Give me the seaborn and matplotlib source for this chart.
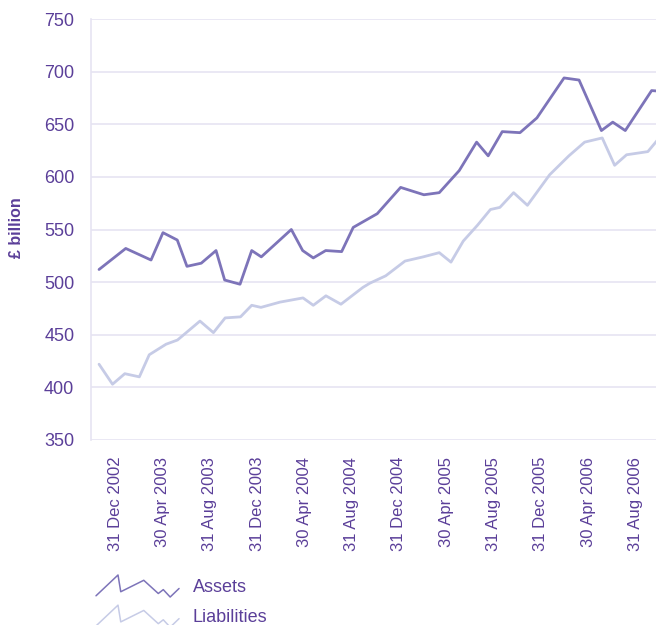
import numpy as np
import pandas as pd
import matplotlib
matplotlib.use("Agg")
import matplotlib.pyplot as plt
from matplotlib.lines import Line2D
from matplotlib.legend_handler import HandlerBase
import seaborn as sns

# x positions are in months, counted from the start of Dec 2002
tick_labels = ["31 Dec 2002", "30 Apr 2003", "31 Aug 2003", "31 Dec 2003",
               "30 Apr 2004", "31 Aug 2004", "31 Dec 2004", "30 Apr 2005",
               "31 Aug 2005", "31 Dec 2005", "30 Apr 2006", "31 Aug 2006"]

assets_month = [0.62, 2.88, 5.02, 6.03, 7.24, 8.06, 9.27, 10.52, 11.25, 12.55,
                13.54, 14.35, 16.89, 17.85, 18.75, 19.80, 21.15, 22.13, 24.16,
                26.14, 28.11, 29.41, 31.10, 32.57, 33.55, 34.74, 36.24, 37.67,
                39.97, 41.24, 43.13, 44.09, 45.15, 47.38, 48.50]
assets_bn = [512, 532, 521, 547, 540, 515, 518, 530, 502, 498,
             530, 524, 550, 530, 523, 530, 529, 552, 565,
             590, 583, 585, 606, 633, 620, 643, 642, 656,
             694, 692, 644, 652, 644, 682, 681]

liab_month = [0.62, 1.76, 2.80, 4.03, 4.87, 6.29, 7.26, 9.16, 10.30, 11.29,
              12.59, 13.54, 14.32, 15.93, 17.88, 18.75, 19.82, 21.09, 22.95,
              23.54, 24.88, 26.51, 28.05, 29.41, 30.40, 31.44, 32.64, 33.74,
              34.54, 35.70, 36.87, 38.75, 40.38, 41.71, 43.20, 44.25, 45.26,
              47.06, 48.25]
liab_bn = [422, 403, 413, 410, 431, 441, 445, 463, 452, 466,
           467, 478, 476, 481, 485, 478, 487, 479, 495,
           499, 506, 520, 524, 528, 519, 539, 554, 569,
           571, 585, 573, 602, 620, 633, 637, 611, 621,
           624, 640]

TEXT = "#5b3f99"
GRID = "#e6e4f2"
ASSETS_C = "#7d74b9"
LIAB_C = "#c6cbe6"

df = pd.concat([
    pd.DataFrame({"month": assets_month, "value": assets_bn, "series": "Assets"}),
    pd.DataFrame({"month": liab_month, "value": liab_bn, "series": "Liabilities"}),
])

sns.set_style("white")
plt.rcParams["font.family"] = ["Liberation Sans", "DejaVu Sans"]

fig = plt.figure(figsize=(6.56, 6.25), dpi=100)
ax = fig.add_axes([91 / 656, 1 - 440 / 625, 565 / 656, 421 / 625])

sns.lineplot(data=df, x="month", y="value", hue="series", sort=False,
             estimator=None, palette={"Assets": ASSETS_C, "Liabilities": LIAB_C},
             linewidth=2.0, legend=False, ax=ax)

ax.set_xlim(-0.06, 47.75)
ax.set_ylim(350, 750)
ax.set_yticks(np.arange(350, 751, 50))
ax.grid(axis="y", color=GRID, linewidth=1.2)
ax.set_axisbelow(True)

# tick marks at group boundaries, labels centred in each 4-month group
ax.set_xticks(np.arange(0, 48, 4))
ax.set_xticklabels([])
ax.set_xticks(np.arange(2, 48, 4), minor=True)
ax.set_xticklabels(tick_labels, minor=True, rotation=90, fontsize=12, color=TEXT)
ax.tick_params(axis="x", which="major", length=6, width=1.2, color=GRID)
ax.tick_params(axis="x", which="minor", length=0, pad=12)
ax.tick_params(axis="y", length=3, width=1.2, color=GRID, pad=9,
               labelsize=13, labelcolor=TEXT)

for side in ["top", "right", "bottom"]:
    ax.spines[side].set_visible(False)
ax.spines["left"].set_color(GRID)
ax.spines["left"].set_linewidth(1.2)

ax.set_xlabel("")
ax.set_ylabel("£ billion", fontsize=11.5, fontweight="bold", color=TEXT)
ax.yaxis.set_label_coords(-0.118, 0.504)

# legend icons are small zigzags like the chart lines
icon_x = [0, 0.265, 0.298, 0.575, 0.75, 0.81, 0.893, 1.0]
icon_y = [0.056, 1.0, 0.24, 0.76, 0.16, 0.336, 0.0, 0.388]


class ZigZagHandler(HandlerBase):
    def create_artists(self, legend, orig_handle, xdescent, ydescent,
                       width, height, fontsize, trans):
        xs = np.array(icon_x) * width - xdescent
        ys = np.array(icon_y) * height - ydescent
        line = Line2D(xs, ys, color=orig_handle.get_color(), linewidth=1.1)
        line.set_transform(trans)
        return [line]


handles = [Line2D([], [], color=ASSETS_C), Line2D([], [], color=LIAB_C)]
fig.legend(handles, ["Assets", "Liabilities"], loc="upper left",
           bbox_to_anchor=(96 / 656, 1 - 575 / 625), frameon=False,
           fontsize=13, labelcolor=TEXT, handlelength=4.6, handleheight=1.5,
           handletextpad=0.75, labelspacing=0.45, borderpad=0, borderaxespad=0,
           handler_map={Line2D: ZigZagHandler()})

fig.savefig("out.png", dpi=100)
